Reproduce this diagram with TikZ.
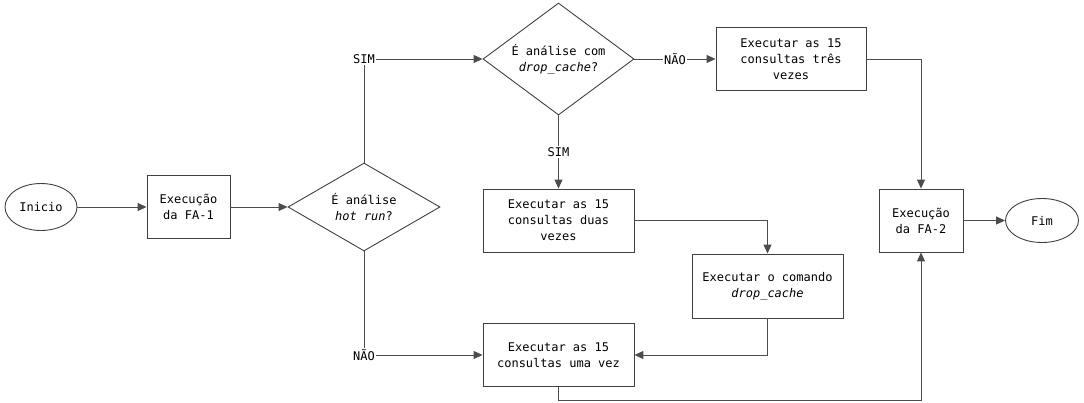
\documentclass[tikz,border=0pt]{standalone}
\usepackage{fontspec}
\setmainfont{DejaVu Sans Mono}
\usepackage{tikz}
\usetikzlibrary{positioning,arrows.meta,calc,shapes.geometric}
\tikzset{proc/.style={draw=black!75, line width=0.9pt, rectangle, align=center, inner sep=0pt,
        minimum width=151pt, minimum height=63pt},
    decision/.style={draw=black!75, line width=0.9pt, diamond, align=center, inner sep=0pt},
    term/.style={draw=black!75, line width=0.9pt, ellipse, inner sep=0pt},
    lbl/.style={fill=white, inner sep=1pt}
}

\begin{document}
\begin{tikzpicture}[x=1pt,y=-1pt,>={Triangle[length=9pt,width=8pt]},
    font=\fontsize{12}{16}\selectfont, line width=1pt, draw=black!70]
		\useasboundingbox (0,0) rectangle (1084,402);
		\node[term,minimum width=72pt,minimum height=47pt] (inicio) at (41,207) {Inicio};
		\node[proc,minimum width=83pt] (fa1) at (188.5,207) {Execução\\da FA-1};
		\node[decision,aspect=1.73,minimum width=152pt,minimum height=88pt] (hot) at (364,207) {É análise\\\textit{hot run}?};
		\node[decision,aspect=1.35,minimum width=151pt,minimum height=112pt] (drop) at (558.5,59) {É análise com\\\textit{drop\_cache}?};
		\node[proc,minimum width=150pt] (tres) at (791,59) {Executar as 15\\consultas três\\vezes};
		\node[proc] (duas) at (558.5,220.5) {Executar as 15\\consultas duas\\vezes};
		\node[proc,minimum height=64pt] (cmd) at (767.5,286) {Executar o comando\\\textit{drop\_cache}};
		\node[proc] (uma) at (558.5,355) {Executar as 15\\consultas uma vez};
		\node[proc,minimum width=84pt] (fa2) at (921,220.5) {Execução\\da FA-2};
		\node[term,minimum width=73pt,minimum height=44pt] (fim) at (1042,220.5) {Fim};
		\coordinate (baixo) at (921,400);

		\draw [->] (inicio) -- (fa1);
		\draw [->] (fa1) -- (hot);
		\draw [->] (hot.north) |- node[lbl,pos=0.5] (simA) {SIM} (drop.west);
		\draw [->] (hot.south) |- node[lbl,pos=0.5] (naoA) {NÃO} (uma.west);
		\draw [->] (drop) -- node[lbl] (naoB) {NÃO} (tres);
		\draw [->] (drop) -- node[lbl] (simB) {SIM} (duas);
		\draw [->] (tres.east) -| (fa2.north);
		\draw [->] (duas.east) -| (cmd.north);
		\draw [->] (cmd.south) |- (uma.east);
		\draw [->] (uma.south) |- (baixo) -- (fa2.south);
		\draw [->] (fa2) -- (fim);
	\end{tikzpicture}
\end{document}
